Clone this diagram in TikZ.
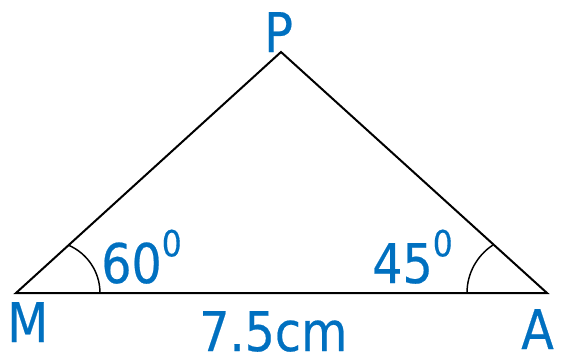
\documentclass[tikz,border=0pt]{standalone}
\usepackage{fontspec}
\setmainfont[FakeStretch=0.87, FakeBold=0.4]{DejaVu Sans}
\usetikzlibrary{calc}
\definecolor{lblblue}{RGB}{0,112,192}
\tikzset{
  %% ---- lines ----
  side/.style     = {line width=1.5pt, black, line join=miter},
  anglearc/.style = {line width=1.1pt, black},
  %% ---- labels ----
  vlabel/.style   = {text=lblblue, inner sep=0pt, anchor=base west,
                     font=\fontsize{41}{41}\selectfont},
}
\newcommand{\degsup}[1]{\raisebox{20pt}{\fontsize{27}{27}\selectfont #1}}

\begin{document}
\begin{tikzpicture}[x=0.75pt, y=-0.75pt]
  \useasboundingbox (0,0) rectangle (561,357);

  \coordinate (M) at (16,293);
  \coordinate (A) at (547,293);
  \coordinate (P) at (281,52);

  \draw[side] (M) -- (A) -- (P) -- cycle;

  % angle marks
  \coordinate (cM) at (48,293);
  \coordinate (cA) at (524.3,293);
  \draw[anglearc] ($(cM)+(52,0)$) arc[start angle=0, end angle=67, radius=39pt];
  \draw[anglearc] ($(cA)+(-57.3,0)$) arc[start angle=180, end angle=123.1, radius=43pt];

  \node[vlabel] (lblP) at (264,52) {P};
  \node[vlabel] (lblM) at (7,342) {M};
  \node[vlabel] (lblA) at (521,349) {A};
  \node[vlabel] (lbl60) at (101,283) {60\degsup{0}};
  \node[vlabel] (lbl45) at (372,283) {45\degsup{0}};
  \node[vlabel] (lblside) at (199,351) {7.5cm};
\end{tikzpicture}
\end{document}
